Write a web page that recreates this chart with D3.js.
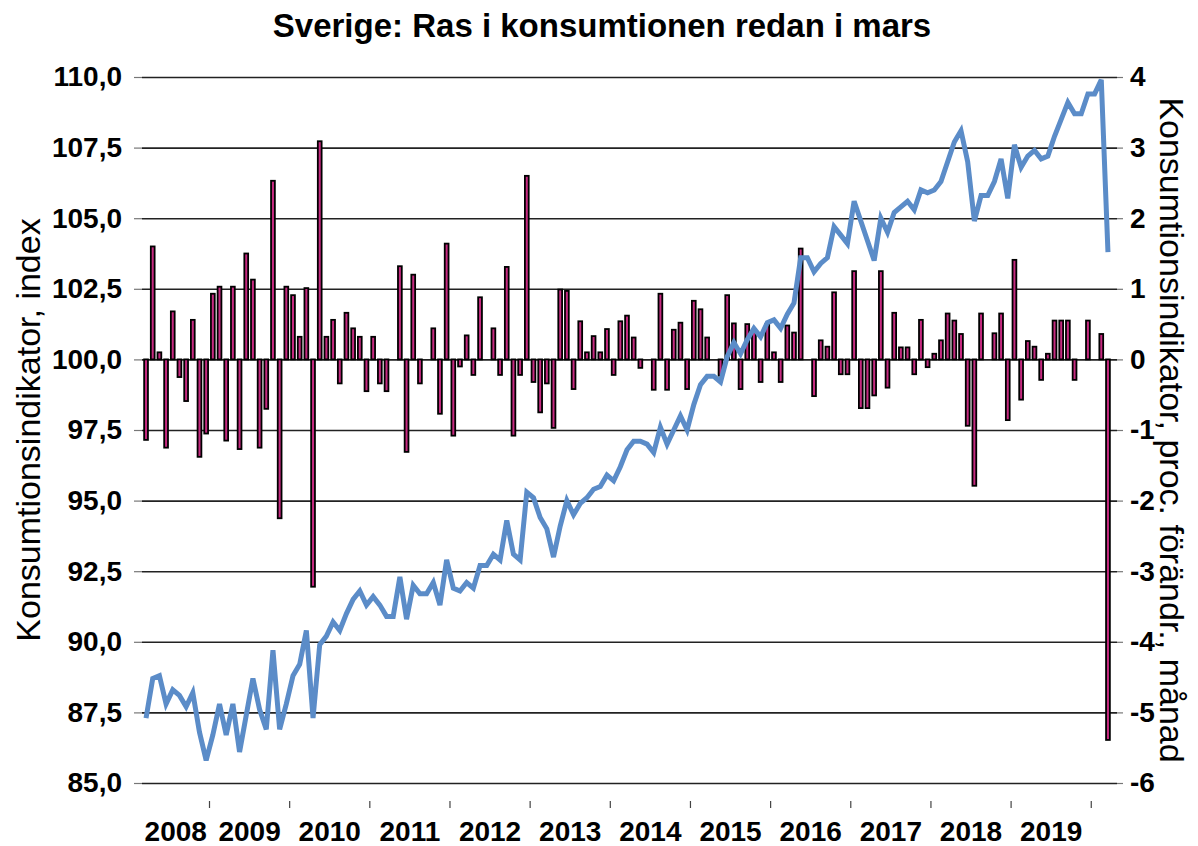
<!DOCTYPE html>
<html>
<head>
<meta charset="utf-8">
<script src="https://cdn.jsdelivr.net/npm/d3@7"></script>
<style>
  body { margin: 0; background: #fff; }
  text { font-family: "Liberation Sans", Arial, sans-serif; }
</style>
</head>
<body>
<div id="chart"></div>
<script>
// Konsumtionsindikator, index (mars 2008 - mars 2020)
var indexValues = [
  87.3, 88.7, 88.8, 87.8, 88.3, 88.1, 87.7, 88.2, 86.8, 85.8,
  86.7, 87.8, 86.7, 87.8, 86.1, 87.4, 88.7, 87.6, 86.9, 89.7,
  86.9, 87.8, 88.8, 89.2, 90.4, 87.3, 89.9, 90.2, 90.7, 90.4,
  91.0, 91.5, 91.8, 91.3, 91.6, 91.3, 90.9, 90.9, 92.3, 90.8,
  92.0, 91.7, 91.7, 92.1, 91.3, 92.9, 91.9, 91.8, 92.1, 91.9,
  92.7, 92.7, 93.1, 92.9, 94.3, 93.1, 92.9, 95.3, 95.1, 94.4,
  94.0, 93.0, 94.1, 95.0, 94.5, 94.9, 95.1, 95.4, 95.5, 95.9,
  95.7, 96.2, 96.8, 97.1, 97.1, 97.0, 96.7, 97.6, 97.0, 97.5,
  98.0, 97.5, 98.4, 99.1, 99.4, 99.4, 99.2, 100.1, 100.6, 100.2,
  100.7, 101.1, 100.8, 101.3, 101.4, 101.1, 101.6, 102.0, 103.6, 103.6,
  103.1, 103.4, 103.6, 104.7, 104.4, 104.1, 105.6, 104.9, 104.2, 103.5,
  105.0, 104.5, 105.2, 105.4, 105.6, 105.3, 106.0, 105.9, 106.0, 106.3,
  107.0, 107.7, 108.1, 107.0, 104.9, 105.8, 105.8, 106.3, 107.1, 105.7,
  107.6, 106.8, 107.2, 107.4, 107.1, 107.2, 107.9, 108.5, 109.1, 108.7,
  108.7, 109.4, 109.4, 109.9, 103.8
];

// proc. förändring, månad
var changeValues = [
  -1.14, 1.60, 0.10, -1.25, 0.68, -0.25, -0.59, 0.56, -1.38, -1.05,
  0.93, 1.03, -1.15, 1.03, -1.27, 1.50, 1.13, -1.25, -0.70, 2.53,
  -2.25, 1.03, 0.91, 0.32, 1.01, -3.22, 3.09, 0.32, 0.56, -0.34,
  0.66, 0.44, 0.32, -0.45, 0.32, -0.34, -0.45, 0.00, 1.32, -1.31,
  1.20, -0.34, 0.00, 0.44, -0.77, 1.64, -1.08, -0.10, 0.34, -0.22,
  0.88, 0.00, 0.44, -0.22, 1.31, -1.08, -0.22, 2.60, -0.32, -0.75,
  -0.34, -0.97, 0.99, 0.97, -0.42, 0.54, 0.10, 0.33, 0.10, 0.43,
  -0.22, 0.54, 0.62, 0.31, -0.12, 0.00, -0.43, 0.93, -0.43, 0.42,
  0.52, -0.42, 0.83, 0.71, 0.31, 0.00, -0.23, 0.91, 0.51, -0.42,
  0.50, 0.42, -0.32, 0.50, 0.10, -0.32, 0.48, 0.38, 1.57, 0.00,
  -0.52, 0.27, 0.18, 0.95, -0.21, -0.21, 1.25, -0.69, -0.69, -0.51,
  1.25, -0.40, 0.66, 0.17, 0.17, -0.21, 0.56, -0.11, 0.08, 0.27,
  0.65, 0.55, 0.36, -0.94, -1.79, 0.65, 0.00, 0.37, 0.65, -0.86,
  1.41, -0.57, 0.26, 0.18, -0.29, 0.08, 0.55, 0.55, 0.55, -0.29,
  0.00, 0.55, 0.00, 0.36, -5.39
];

var yearLabels = ["2008", "2009", "2010", "2011", "2012", "2013", "2014", "2015", "2016", "2017", "2018", "2019"];
var leftTicks = [85, 87.5, 90, 92.5, 95, 97.5, 100, 102.5, 105, 107.5, 110];
var rightTicks = [-6, -5, -4, -3, -2, -1, 0, 1, 2, 3, 4];

var title = "Sverige: Ras i konsumtionen redan i mars";
var leftTitle = "Konsumtionsindikator, index";
var rightTitle = "Konsumtionsindikator, proc. förändr., månad";

var width = 1198;
var height = 846;
var plotLeft = 142, plotRight = 1117, plotTop = 77, plotBottom = 783;

var svg = d3.select("#chart")
            .append("svg")
            .attr("width", width)
            .attr("height", height);

var months = d3.timeMonth.range(new Date(2008, 2, 1), new Date(2020, 3, 1));

var x = d3.scaleBand()
          .domain(months)
          .range([142.7, 1111.3]);

var yLeft = d3.scaleLinear()
              .domain([85, 110])
              .range([plotBottom, plotTop]);

var yRight = d3.scaleLinear()
               .domain([-6, 4])
               .range([plotBottom, plotTop]);

var sv = d3.formatLocale({decimal: ",", thousands: " ", grouping: [3], currency: ["", " kr"], minus: "-"});
var fmtLeft = sv.format(".1f");
var fmtRight = sv.format("d");

// gridlines
svg.append("g")
   .attr("transform", "translate(" + plotLeft + ",0)")
   .call(d3.axisLeft(yLeft).tickValues(leftTicks).tickSize(-(plotRight - plotLeft)).tickFormat(""))
   .call(function(g) {
     g.select(".domain").remove();
     g.selectAll("line").attr("stroke", "#222").attr("stroke-width", 1.6);
   });

// left axis
svg.append("g")
   .attr("transform", "translate(" + plotLeft + ",0)")
   .call(d3.axisLeft(yLeft).tickValues(leftTicks).tickSize(8).tickPadding(12).tickFormat(fmtLeft))
   .call(function(g) {
     g.select(".domain").remove();
     g.selectAll("line").attr("stroke", "#777").attr("stroke-width", 1.2);
     g.selectAll("text").attr("font-size", 28).attr("font-weight", "bold").attr("fill", "#000")
      .attr("font-family", "'Liberation Sans', Arial, sans-serif");
   });

// right axis
svg.append("g")
   .attr("transform", "translate(" + plotRight + ",0)")
   .call(d3.axisRight(yRight).tickValues(rightTicks).tickSize(6).tickPadding(7).tickFormat(fmtRight))
   .call(function(g) {
     g.select(".domain").remove();
     g.selectAll("line").attr("stroke", "#777").attr("stroke-width", 1.2);
     g.selectAll("text").attr("font-size", 28).attr("font-weight", "bold").attr("fill", "#000")
      .attr("font-family", "'Liberation Sans', Arial, sans-serif");
   });

// bars
var bw = 3.8;
svg.append("g")
   .selectAll("rect")
   .data(changeValues)
   .enter()
   .append("rect")
   .attr("x", function(d, i) { return x(months[i]) + x.bandwidth() / 2 - bw / 2; })
   .attr("y", function(d) { return Math.min(yRight(d), yRight(0)); })
   .attr("width", bw)
   .attr("height", function(d) { return Math.abs(yRight(d) - yRight(0)); })
   .attr("fill", "#c62a80")
   .attr("stroke", "#000")
   .attr("stroke-width", 1.8);

// line
var line = d3.line()
             .x(function(d, i) { return x(months[i]) + x.bandwidth() / 2; })
             .y(function(d) { return yLeft(d); });

svg.append("path")
   .datum(indexValues)
   .attr("d", line)
   .attr("fill", "none")
   .attr("stroke", "#5b8cc8")
   .attr("stroke-width", 5)
   .attr("stroke-linejoin", "miter");

// year ticks and labels
var jan = months.filter(function(m) { return m.getMonth() === 0; });
svg.append("g")
   .selectAll("line")
   .data(jan)
   .enter()
   .append("line")
   .attr("x1", function(d) { return x(d); })
   .attr("x2", function(d) { return x(d); })
   .attr("y1", 801)
   .attr("y2", 808)
   .attr("stroke", "#444")
   .attr("stroke-width", 1.2);

var bounds = [plotLeft].concat(jan.map(function(d) { return x(d); }));
svg.append("g")
   .selectAll("text")
   .data(yearLabels)
   .enter()
   .append("text")
   .attr("x", function(d, i) { return (bounds[i] + bounds[i + 1]) / 2; })
   .attr("y", 841)
   .attr("text-anchor", "middle")
   .attr("font-size", 28)
   .attr("font-weight", "bold")
   .text(function(d) { return d; });

// titles
svg.append("text")
   .attr("x", 602)
   .attr("y", 37)
   .attr("text-anchor", "middle")
   .attr("font-size", 33)
   .attr("font-weight", "bold")
   .text(title);

svg.append("text")
   .attr("transform", "translate(40,430) rotate(-90)")
   .attr("text-anchor", "middle")
   .attr("font-size", 34)
   .text(leftTitle);

svg.append("text")
   .attr("transform", "translate(1160,430) rotate(90)")
   .attr("text-anchor", "middle")
   .attr("font-size", 34)
   .text(rightTitle);
</script>
</body>
</html>
